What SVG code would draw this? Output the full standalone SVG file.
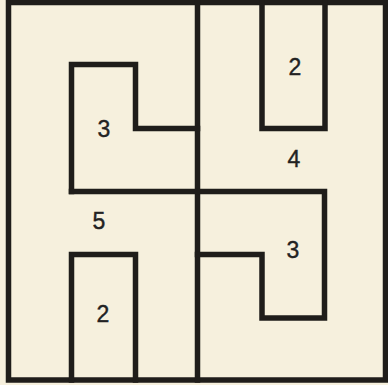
<svg xmlns="http://www.w3.org/2000/svg" width="388" height="385" viewBox="0 0 388 385">
  <style>
    .wall { fill: none; stroke: #1f1d1a; stroke-width: 5.5; stroke-linecap: square; stroke-linejoin: miter; }
    .num { font-family: "Liberation Sans", "DejaVu Sans", sans-serif; font-size: 23px; fill: #222; stroke: #222; stroke-width: 0.4; text-anchor: middle; }
  </style>
  <rect x="0" y="0" width="388" height="385" fill="#f6f0dd"/>
  <g id="border">
    <rect class="wall" x="8.5" y="2.5" width="377" height="377.5"/>
  </g>
  <g id="walls">
    <line class="wall" x1="197.5" y1="2.5" x2="197.5" y2="380"/>
    <polyline class="wall" points="71.5,191.5 71.5,64.5 135.5,64.5 135.5,128.5 197.5,128.5"/>
    <polyline class="wall" points="71.5,191.5 324.5,191.5 324.5,318 262,318 262,254.5 197.5,254.5"/>
    <polyline class="wall" points="262,2.5 262,128.5 325,128.5 325,2.5"/>
    <polyline class="wall" points="71.5,380 71.5,254.5 135.5,254.5 135.5,380"/>
  </g>
  <g id="numbers">
    <text class="num" x="104" y="137">3</text>
    <text class="num" x="295" y="75">2</text>
    <text class="num" x="294" y="167">4</text>
    <text class="num" x="99" y="229">5</text>
    <text class="num" x="103" y="322">2</text>
    <text class="num" x="293" y="258">3</text>
  </g>
</svg>
